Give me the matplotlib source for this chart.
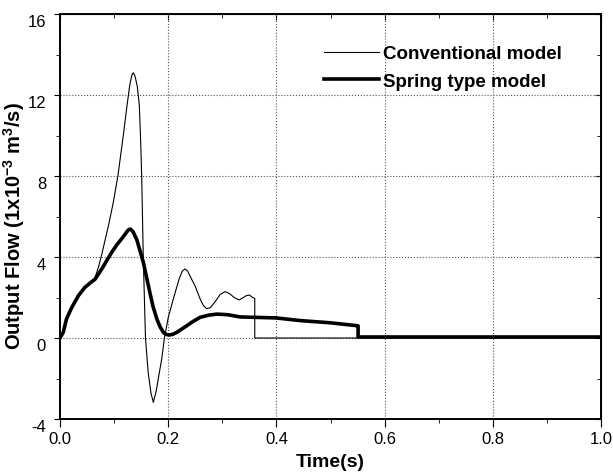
import matplotlib
matplotlib.use("Agg")
import matplotlib.pyplot as plt
from matplotlib.ticker import MultipleLocator

plt.rcParams['font.family'] = ['Liberation Sans', 'DejaVu Sans']
plt.rcParams['mathtext.fontset'] = 'custom'
plt.rcParams['mathtext.rm'] = 'Liberation Sans:bold'
plt.rcParams['mathtext.bf'] = 'Liberation Sans:bold'
plt.rcParams['mathtext.default'] = 'bf'
plt.rcParams['axes.unicode_minus'] = False
plt.rcParams['ytick.alignment'] = 'top'

# Conventional model (thin line)
t_conv = [0.0, 0.006, 0.012, 0.022, 0.034, 0.046, 0.0586, 0.065, 0.071, 0.077,
          0.083, 0.09, 0.0985, 0.107, 0.117, 0.124, 0.129, 0.133, 0.1355, 0.139,
          0.143, 0.1466, 0.149, 0.151, 0.154, 0.158, 0.163, 0.168, 0.1725, 0.178,
          0.183, 0.188, 0.193, 0.2, 0.2095, 0.22, 0.226, 0.231, 0.236, 0.2405,
          0.2495, 0.259, 0.265, 0.271, 0.278, 0.287, 0.296, 0.305, 0.313, 0.322,
          0.331, 0.339, 0.345, 0.35, 0.355, 0.36, 0.36, 0.55, 1.0]
v_conv = [0.0, 0.28, 0.94, 1.5, 2.09, 2.5, 2.78, 3.0, 3.5, 4.1,
          4.8, 5.6, 6.7, 8.0, 10.0, 11.5, 12.5, 13.0, 13.1, 12.9,
          12.4, 11.5, 9.8, 8.0, 3.9, 0.0, -1.7, -2.7, -3.18, -2.6,
          -1.8, -1.04, 0.0, 1.0, 1.93, 2.9, 3.3, 3.41, 3.3, 3.05,
          2.58, 1.93, 1.6, 1.45, 1.5, 1.8, 2.15, 2.29, 2.2, 2.0,
          1.88, 2.0, 2.1, 2.12, 2.02, 1.95, 0.0, 0.0, 0.0]

# Spring type model (thick line)
t_spring = [0.0, 0.006, 0.012, 0.0216, 0.034, 0.046, 0.0586, 0.0647, 0.077, 0.0955,
            0.105, 0.114, 0.121, 0.126, 0.13, 0.135, 0.142, 0.148, 0.154, 0.16,
            0.166, 0.172, 0.179, 0.185, 0.191, 0.197, 0.203, 0.209, 0.216, 0.225,
            0.234, 0.246, 0.259, 0.275, 0.29, 0.31, 0.333, 0.36, 0.4, 0.444,
            0.5, 0.548, 0.551, 0.551, 0.7, 1.0]
v_spring = [0.0, 0.28, 0.94, 1.5, 2.09, 2.5, 2.78, 2.9, 3.4, 4.23,
            4.6, 4.9, 5.15, 5.33, 5.38, 5.25, 4.85, 4.3, 3.74, 3.0,
            2.26, 1.55, 0.94, 0.55, 0.28, 0.17, 0.15, 0.19, 0.28, 0.44,
            0.6, 0.82, 1.02, 1.13, 1.18, 1.15, 1.04, 1.02, 0.99, 0.86,
            0.75, 0.61, 0.6, 0.05, 0.05, 0.05]

x_ticks = [0.0, 0.2, 0.4, 0.6, 0.8, 1.0]
x_labels = ['0.0', '0.2', '0.4', '0.6', '0.8', '1.0']
y_ticks = [-4, 0, 4, 8, 12, 16]

fig = plt.figure(figsize=(6.13, 4.77), dpi=100)
ax = fig.add_axes([60/613, 57/477, 541/613, 405/477])

ax.plot(t_conv, v_conv, color='black', lw=0.8, label='Conventional model')
ax.plot(t_spring, v_spring, color='black', lw=2.6, label='Spring type model')

ax.set_xlim(0, 1.0)
ax.set_ylim(-4, 16)
ax.set_xticks(x_ticks)
ax.set_xticklabels(x_labels)
ax.set_yticks(y_ticks)
ax.xaxis.set_minor_locator(MultipleLocator(0.1))
ax.yaxis.set_minor_locator(MultipleLocator(2))
ax.tick_params(which='both', direction='out', labelsize=12)
ax.tick_params(axis='x', which='major', length=5.5, pad=3)
ax.tick_params(axis='y', which='major', length=4.5, pad=5.5)
ax.tick_params(which='minor', length=3)
ax.grid(True, which='major', linestyle=':', color='#555555', lw=0.8)
for s in ax.spines.values():
    s.set_linewidth(1.4)

# inward ticks on top and right edges
top = ax.secondary_xaxis('top')
top.set_xticks(x_ticks)
top.xaxis.set_minor_locator(MultipleLocator(0.1))
top.tick_params(which='both', direction='in', labeltop=False)
top.tick_params(which='major', length=4)
top.tick_params(which='minor', length=3)
right = ax.secondary_yaxis('right')
right.set_yticks(y_ticks)
right.yaxis.set_minor_locator(MultipleLocator(2))
right.tick_params(which='both', direction='in', labelright=False)
right.tick_params(which='major', length=4)
right.tick_params(which='minor', length=3)

ax.set_xlabel('Time(s)', fontsize=14, fontweight='bold')
ax.xaxis.set_label_coords(0.5, -0.085)
ax.set_ylabel(r'Output Flow (1x10$^{-3}$ m$^{3}$/s)', fontsize=14.5,
              fontweight='bold')
ax.yaxis.set_label_coords(-0.061, 0.48)

leg = ax.legend(loc='upper right', bbox_to_anchor=(0.958, 0.965), frameon=False,
                prop={'weight': 'bold', 'size': 13.5}, handlelength=2.9,
                handletextpad=0.2, labelspacing=0.55)

fig.savefig('out.png', dpi=100)
